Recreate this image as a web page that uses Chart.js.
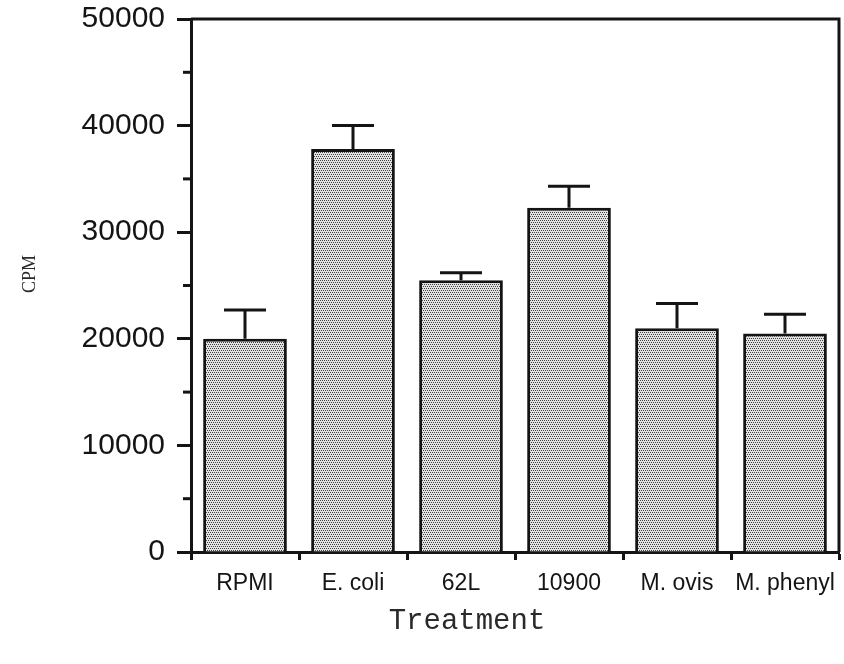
<!DOCTYPE html>
<html>
<head>
<meta charset="utf-8">
<script src="https://cdn.jsdelivr.net/npm/chart.js@4.4.1/dist/chart.umd.min.js"></script>
<style>
  html, body { margin: 0; padding: 0; background: #ffffff; }
  #chart { display: block; }
</style>
</head>
<body>
<canvas id="chart" width="844" height="664"></canvas>
<script>
// Treatment groups and their mean counts (CPM) with the upper error
const treatments = ['RPMI', 'E. coli', '62L', '10900', 'M. ovis', 'M. phenyl'];
const cpmMean = [20000, 37800, 25500, 32300, 21000, 20500];
const cpmError = [2700, 2200, 700, 2000, 2300, 1800];

// Axis ticks
const yTicks = [0, 10000, 20000, 30000, 40000, 50000];
const yMinorTicks = [5000, 15000, 25000, 35000, 45000];

const xTitle = 'Treatment';
const yTitle = 'CPM';

const INK = '#141414';
const canvas = document.getElementById('chart');
const ctx2d = canvas.getContext('2d');

// Fine stipple fill for the bars
function stipplePattern() {
  const tile = document.createElement('canvas');
  tile.width = 4; tile.height = 4;
  const g = tile.getContext('2d');
  g.fillStyle = '#e2e2e2';
  g.fillRect(0, 0, 4, 4);
  g.fillStyle = '#404040';
  g.fillRect(0, 0, 1, 1);
  g.fillRect(2, 0, 1, 1);
  g.fillRect(1, 2, 1, 1);
  g.fillRect(3, 2, 1, 1);
  return ctx2d.createPattern(tile, 'repeat');
}

// Upward error bars with caps
const errorBars = {
  id: 'errorBars',
  afterDatasetsDraw(chart) {
    const { ctx, scales: { y } } = chart;
    const meta = chart.getDatasetMeta(0);
    ctx.save();
    ctx.strokeStyle = INK;
    ctx.lineWidth = 3;
    ctx.lineCap = 'butt';
    meta.data.forEach((bar, i) => {
      const base = y.getPixelForValue(cpmMean[i]);
      const top = y.getPixelForValue(cpmMean[i] + cpmError[i]);
      ctx.beginPath();
      ctx.moveTo(bar.x, base);
      ctx.lineTo(bar.x, top);
      ctx.moveTo(bar.x - 21, top);
      ctx.lineTo(bar.x + 21, top);
      ctx.stroke();
    });
    ctx.restore();
  }
};

// Top/right frame, minor y ticks and axis titles
const frameAndTitles = {
  id: 'frameAndTitles',
  afterDraw(chart) {
    const { ctx, chartArea: a, scales: { y } } = chart;
    ctx.save();
    ctx.strokeStyle = INK;
    ctx.lineWidth = 3;
    ctx.beginPath();
    ctx.moveTo(a.left, a.top);
    ctx.lineTo(a.right, a.top);
    ctx.lineTo(a.right, a.bottom);
    ctx.stroke();

    yMinorTicks.forEach(v => {
      const py = y.getPixelForValue(v);
      ctx.beginPath();
      ctx.moveTo(a.left - 8, py);
      ctx.lineTo(a.left, py);
      ctx.stroke();
    });

    ctx.fillStyle = '#2a2a2a';
    ctx.font = '29px "Liberation Mono", "Courier New", monospace';
    ctx.textAlign = 'center';
    ctx.textBaseline = 'middle';
    ctx.fillText(xTitle, 467, 621);

    ctx.translate(30, 274);
    ctx.rotate(-Math.PI / 2);
    ctx.font = '18px "Liberation Serif", "Times New Roman", serif';
    ctx.fillText(yTitle, 0, 0);
    ctx.restore();
  }
};

new Chart(canvas, {
  type: 'bar',
  data: {
    labels: treatments,
    datasets: [{
      data: cpmMean,
      backgroundColor: stipplePattern(),
      borderColor: INK,
      borderWidth: 3,
      borderSkipped: 'bottom',
      barPercentage: 0.775,
      categoryPercentage: 1.0
    }]
  },
  options: {
    responsive: false,
    animation: false,
    devicePixelRatio: 1,
    layout: { padding: { left: 0, right: 5, top: 19, bottom: 0 } },
    plugins: {
      legend: { display: false },
      tooltip: { enabled: false }
    },
    scales: {
      x: {
        offset: true,
        grid: {
          offset: true,
          drawOnChartArea: false,
          tickLength: 8,
          tickWidth: 3,
          tickColor: INK
        },
        border: { color: INK, width: 3 },
        ticks: {
          color: INK,
          autoSkip: false,
          maxRotation: 0,
          padding: 10,
          font: { family: '"Liberation Sans", Arial, sans-serif', size: 23 }
        },
        afterFit(scale) {
          scale.height = 112;
          scale.paddingLeft = 0;
          scale.paddingRight = 0;
        }
      },
      y: {
        min: 0,
        max: 50000,
        afterBuildTicks(scale) { scale.ticks = yTicks.map(v => ({ value: v })); },
        grid: {
          drawOnChartArea: false,
          tickLength: 14,
          tickWidth: 3,
          tickColor: INK
        },
        border: { color: INK, width: 3 },
        ticks: {
          color: INK,
          padding: 12,
          callback: v => String(v),
          font: { family: '"Liberation Sans", Arial, sans-serif', size: 30 }
        },
        afterFit(scale) {
          scale.width = 191;
          scale.paddingTop = 0;
          scale.paddingBottom = 0;
        }
      }
    }
  },
  plugins: [errorBars, frameAndTitles]
});
</script>
</body>
</html>
